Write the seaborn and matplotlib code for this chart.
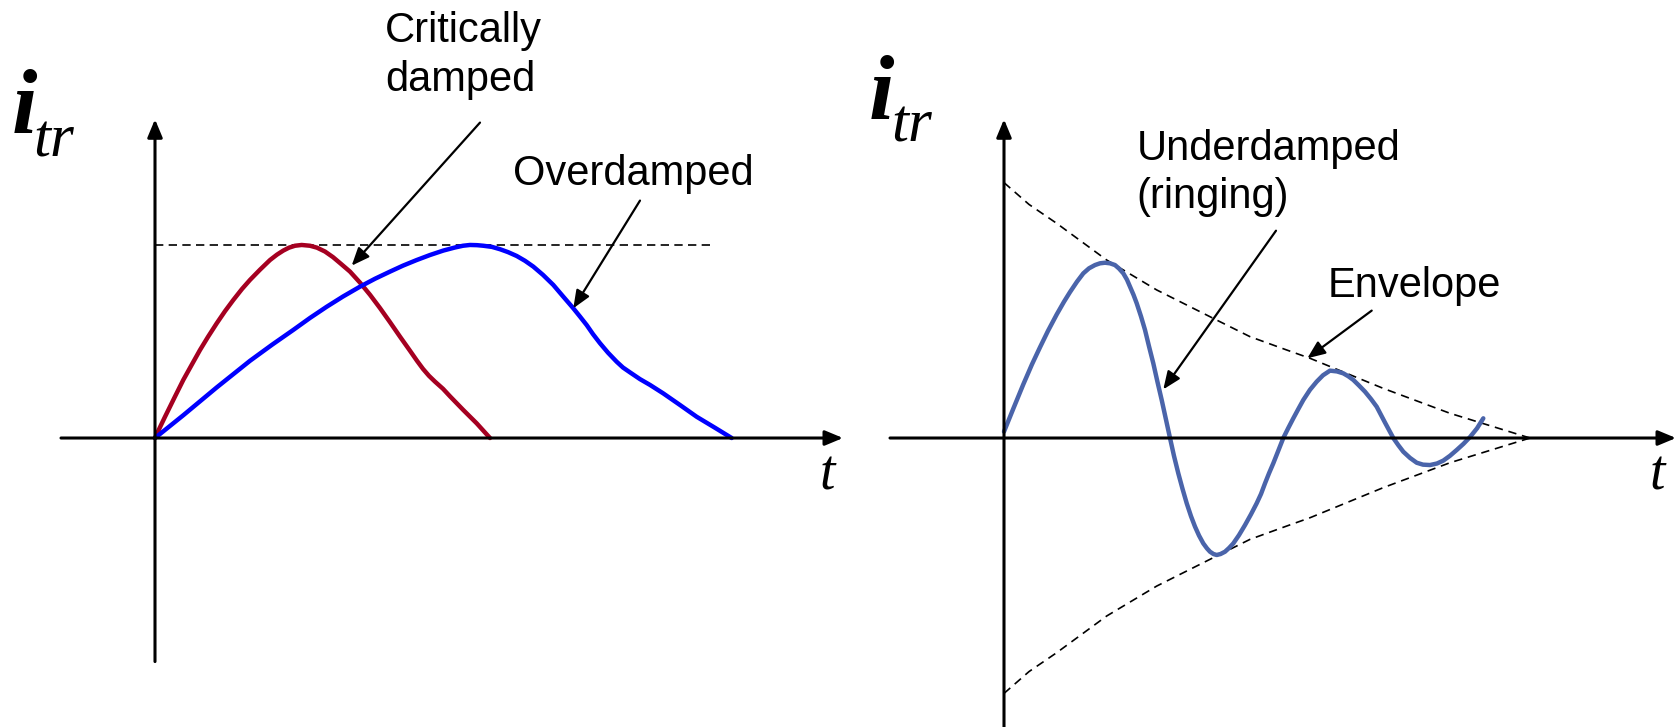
import matplotlib
matplotlib.use("Agg")
import matplotlib.pyplot as plt
import seaborn as sns

# --- data (t, i_tr in arbitrary units, peak = 1) ---
crit_t = [0, 0.05, 0.10, 0.20, 0.283, 0.37, 0.45, 0.53, 0.617, 0.70, 0.783, 0.87, 0.95,
          1.05, 1.15, 1.22, 1.283, 1.34, 1.40, 1.467, 1.55, 1.62, 1.70, 1.78, 1.86, 1.95,
          2.05, 2.15, 2.25, 2.35, 2.45, 2.55, 2.62, 2.68, 2.74, 2.80, 2.88, 2.95, 3.083,
          3.217, 3.35]
crit_i = [0, 0.056, 0.11, 0.215, 0.301, 0.382, 0.456, 0.524, 0.594, 0.657, 0.715, 0.772, 0.819,
          0.872, 0.922, 0.950, 0.971, 0.986, 0.996, 1.0, 0.996, 0.986, 0.966, 0.937, 0.902, 0.862,
          0.805, 0.742, 0.673, 0.600, 0.525, 0.452, 0.400, 0.358, 0.322, 0.292, 0.255, 0.216, 0.145,
          0.076, 0.0]

over_t = [0, 0.283, 0.617, 0.95, 1.17, 1.383, 1.55, 1.717, 1.88, 2.05, 2.2, 2.35, 2.48,
          2.617, 2.75, 2.883, 3.0, 3.08, 3.15, 3.22, 3.283, 3.37, 3.45, 3.53, 3.617, 3.70,
          3.783, 3.88, 3.983, 4.08, 4.183, 4.25, 4.317, 4.38, 4.45, 4.53, 4.617, 4.68, 4.75,
          4.85, 4.95, 5.083, 5.25, 5.417, 5.6, 5.767]
over_i = [0, 0.118, 0.262, 0.400, 0.483, 0.560, 0.622, 0.680, 0.733, 0.784, 0.825, 0.862, 0.893,
          0.922, 0.948, 0.971, 0.987, 0.996, 1.0, 0.999, 0.996, 0.990, 0.978, 0.963, 0.943, 0.918,
          0.888, 0.845, 0.793, 0.734, 0.672, 0.629, 0.585, 0.538, 0.491, 0.442, 0.395, 0.365, 0.340,
          0.305, 0.275, 0.231, 0.171, 0.110, 0.053, 0.0]

peak_t = [0, 5.55]
peak_i = [1, 1]

ring_t = [0, 0.093, 0.193, 0.28, 0.36, 0.44, 0.527, 0.60, 0.66, 0.73, 0.793, 0.85, 0.91,
          0.96, 1.01, 1.06, 1.11, 1.15, 1.193, 1.23, 1.26, 1.295, 1.327, 1.37, 1.41, 1.45,
          1.493, 1.535, 1.577, 1.62, 1.66, 1.70, 1.743, 1.785, 1.827, 1.87, 1.91, 1.95, 1.993,
          2.03, 2.06, 2.095, 2.127, 2.165, 2.21, 2.25, 2.293, 2.35, 2.41, 2.47, 2.527, 2.57,
          2.61, 2.65, 2.693, 2.745, 2.793, 2.843, 2.893, 2.943, 2.993, 3.06, 3.127, 3.19, 3.26,
          3.33, 3.393, 3.443, 3.493, 3.55, 3.61, 3.67, 3.727, 3.81, 3.893, 3.943, 3.993, 4.06,
          4.127, 4.19, 4.26, 4.33, 4.393, 4.46, 4.527, 4.595, 4.66, 4.73, 4.793]
ring_i = [0.033, 0.152, 0.278, 0.382, 0.470, 0.555, 0.640, 0.706, 0.756, 0.81, 0.853, 0.879, 0.896,
          0.905, 0.908, 0.905, 0.896, 0.878, 0.853, 0.82, 0.784, 0.742, 0.698, 0.63, 0.560, 0.475,
          0.387, 0.29, 0.197, 0.095, 0.0, -0.093, -0.183, -0.263, -0.338, -0.405, -0.459, -0.505,
          -0.546, -0.572, -0.589, -0.601, -0.606, -0.601, -0.589, -0.57, -0.546, -0.503, -0.451,
          -0.395, -0.338, -0.29, -0.235, -0.183, -0.131, -0.063, 0.0, 0.052, 0.102, 0.15, 0.197,
          0.25, 0.292, 0.325, 0.349, 0.345, 0.335, 0.32, 0.301, 0.272, 0.240, 0.202, 0.162, 0.08,
          0.0, -0.037, -0.071, -0.103, -0.128, -0.138, -0.140, -0.132, -0.117, -0.092, -0.062,
          -0.03, 0.005, 0.05, 0.102]

env_t = [0, 0.25, 0.527, 1.027, 1.527, 2.127, 2.46, 2.827, 3.06, 3.793, 4.46, 5.26]
env_upper = [1.323, 1.21, 1.112, 0.922, 0.767, 0.611, 0.525, 0.456, 0.413, 0.257, 0.128, 0.0]
env_lower = [-v for v in env_upper]

sns.set_style("white")
plt.rcParams["font.family"] = ["Liberation Sans", "DejaVu Sans"]
plt.rcParams["text.color"] = "black"

fig = plt.figure(figsize=(16.81, 7.27), dpi=100)
ax1 = fig.add_axes([0, 0, 0.5, 1])
ax2 = fig.add_axes([0.5, 0, 0.5, 1])
ax1.set_xlim(-1.55, 6.855)
ax2.set_xlim(-1.635, 6.77)
for ax in (ax1, ax2):
    ax.set_ylim(-1.497, 2.269)
    ax.set_axis_off()

axis_arrow = dict(arrowstyle="-|>,head_length=0.6,head_width=0.25", mutation_scale=18,
                  lw=2.2, color="black", shrinkA=0, shrinkB=0)
note_arrow = dict(arrowstyle="-|>,head_length=0.6,head_width=0.25", mutation_scale=18,
                  lw=1.6, color="black", shrinkA=0, shrinkB=0)


def draw_axes(ax, x0, x1, y0, y1):
    ax.annotate("", xy=(x1, 0), xytext=(x0, 0), arrowprops=axis_arrow, annotation_clip=False)
    ax.annotate("", xy=(0, y1), xytext=(0, y0), arrowprops=axis_arrow, annotation_clip=False)


def label_axes(ax, ix, iy, sx, sy, tx):
    ax.text(ix, iy, "i", family="Liberation Serif", style="italic", weight="bold",
            fontsize=66, va="baseline", ha="left")
    ax.text(sx, sy, "tr", family="Liberation Serif", style="italic",
            fontsize=44, va="baseline", ha="left")
    ax.text(tx, -0.269, "t", family="Liberation Serif", style="italic",
            fontsize=40, va="baseline", ha="left")


def two_lines(ax, x, y1, y2, first, second):
    ax.text(x, y1, first, fontsize=30, va="baseline", ha="left")
    ax.text(x, y2, second, fontsize=30, va="baseline", ha="left")


# left panel
draw_axes(ax1, -0.94, 6.88, -1.158, 1.651)
sns.lineplot(x=peak_t, y=peak_i, ax=ax1, color="black", lw=1.2,
             linestyle=(0, (5, 3.2)), sort=False, estimator=None)
sns.lineplot(x=crit_t, y=crit_i, ax=ax1, color="#A50021", lw=3.2,
             sort=False, estimator=None)
sns.lineplot(x=over_t, y=over_i, ax=ax1, color="#0000FF", lw=3.2,
             sort=False, estimator=None)
label_axes(ax1, -1.43, 1.587, -1.22, 1.458, 6.65)
two_lines(ax1, 2.30, 2.053, 1.798, "Critically", "damped")
ax1.text(3.576, 1.311, "Overdamped", fontsize=30, va="baseline", ha="left")
ax1.annotate("", xy=(1.967, 0.893), xytext=(3.25, 1.634), arrowprops=note_arrow)
ax1.annotate("", xy=(4.183, 0.672), xytext=(4.85, 1.23), arrowprops=note_arrow)

# right panel
draw_axes(ax2, -1.14, 6.72, -1.5, 1.651)
sns.lineplot(x=env_t, y=env_upper, ax=ax2, color="black", lw=1.2,
             linestyle=(0, (5, 3.5)), sort=False, estimator=None)
sns.lineplot(x=env_t, y=env_lower, ax=ax2, color="black", lw=1.2,
             linestyle=(0, (5, 3.5)), sort=False, estimator=None)
sns.lineplot(x=ring_t, y=ring_i, ax=ax2, color="#4A64AA", lw=3.2,
             sort=False, estimator=None)
label_axes(ax2, -1.35, 1.658, -1.123, 1.535, 6.46)
two_lines(ax2, 1.327, 1.440, 1.189, "Underdamped", "(ringing)")
ax2.text(3.24, 0.732, "Envelope", fontsize=30, va="baseline", ha="left")
ax2.annotate("", xy=(1.593, 0.252), xytext=(2.72, 1.074), arrowprops=note_arrow)
ax2.annotate("", xy=(3.033, 0.413), xytext=(3.677, 0.660), arrowprops=note_arrow)

fig.savefig("out.png", dpi=100, facecolor="white")
